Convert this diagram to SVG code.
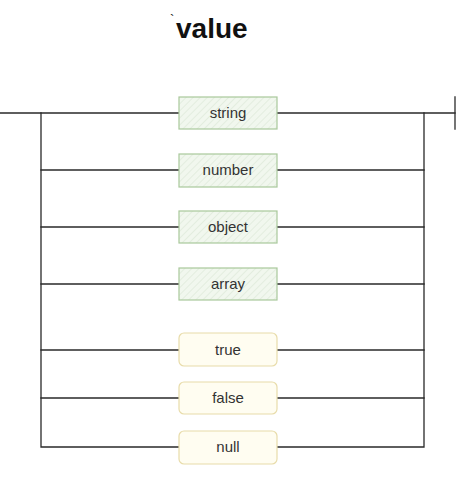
<svg xmlns="http://www.w3.org/2000/svg" width="474" height="499" viewBox="0 0 474 499">
<style>
.wire{fill:none;stroke:#2a2a2a;stroke-width:1.3;stroke-linecap:square}
.g{fill:url(#hatch);stroke:#a9c89b;stroke-width:1.2}
.y{fill:#fffdf1;stroke:#e8dcaa;stroke-width:1.2}
.lbl{font-family:"Liberation Sans",Arial,sans-serif;font-size:15px;fill:#333;text-anchor:middle}
.title{font-family:"Liberation Sans",Arial,sans-serif;font-size:28px;font-weight:bold;fill:#111}
</style>
<defs>
<pattern id="hatch" patternUnits="userSpaceOnUse" width="5" height="5" patternTransform="rotate(45)">
<rect width="5" height="5" fill="#f1f7ee"/>
<line x1="0" y1="0" x2="0" y2="5" stroke="#dfeadb" stroke-width="1.5"/>
</pattern>
</defs>
<rect width="474" height="499" fill="#fff"/>
<text class="title" x="170" y="38"><tspan font-size="13" font-weight="normal" dy="-14">`</tspan><tspan x="176" y="38">value</tspan></text>
<g id="connectors">
<path class="wire" d="M0 113H179M277 113H455"/>
<path class="wire" d="M455 97V129"/>
<path class="wire" d="M41 113V447H179M277 447H424V113"/>
<path class="wire" d="M41 170H179M277 170H424"/>
<path class="wire" d="M41 227H179M277 227H424"/>
<path class="wire" d="M41 284H179M277 284H424"/>
<path class="wire" d="M41 350H179M277 350H424"/>
<path class="wire" d="M41 398H179M277 398H424"/>
</g>
<g id="string"><rect class="g" x="179" y="97" width="98" height="32"/><text class="lbl" x="228" y="118">string</text></g>
<g id="number"><rect class="g" x="179" y="154" width="98" height="33"/><text class="lbl" x="228" y="175">number</text></g>
<g id="object"><rect class="g" x="179" y="211" width="98" height="32"/><text class="lbl" x="228" y="232">object</text></g>
<g id="array"><rect class="g" x="179" y="268" width="98" height="32"/><text class="lbl" x="228" y="289">array</text></g>
<g id="true"><rect class="y" x="179" y="333" width="98" height="33" rx="5"/><text class="lbl" x="228" y="355">true</text></g>
<g id="false"><rect class="y" x="179" y="382" width="98" height="32" rx="5"/><text class="lbl" x="228" y="403">false</text></g>
<g id="null"><rect class="y" x="179" y="431" width="98" height="33" rx="5"/><text class="lbl" x="228" y="452">null</text></g>
</svg>
